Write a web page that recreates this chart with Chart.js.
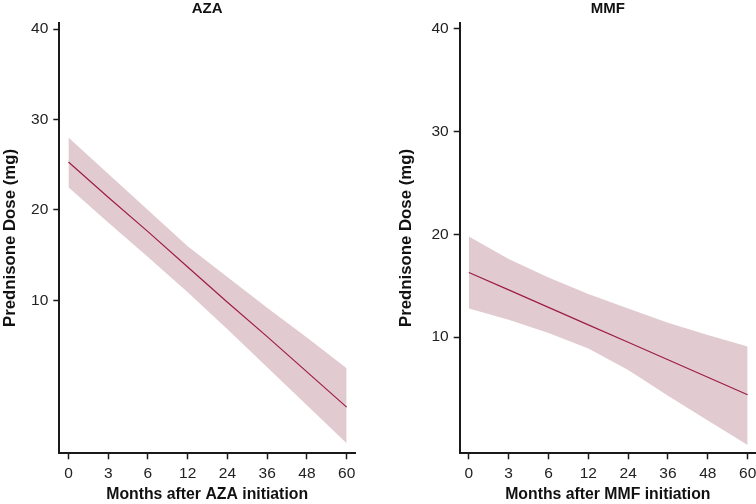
<!DOCTYPE html>
<html>
<head>
<meta charset="utf-8">
<script src="https://cdn.jsdelivr.net/npm/chart.js@4.4.1/dist/chart.umd.min.js"></script>
<style>
  html, body { margin: 0; padding: 0; background: #fff; overflow: hidden; width: 756px; height: 504px; }
  #wrap { position: relative; width: 756px; height: 504px; overflow: hidden; }
  canvas { position: absolute; top: 0; }
</style>
</head>
<body>
<div id="wrap">
  <canvas id="c1" width="378" height="504" style="left:0px"></canvas>
  <canvas id="c2" width="400" height="504" style="left:378px"></canvas>
</div>
<script>
// Categories (months after initiation)
const xLabels = ['0', '3', '6', '12', '24', '36', '48', '60'];
// Y tick labels
const yTickValues = [10, 20, 30, 40];

// AZA panel
const azaFit   = [25.3, 21.4, 17.6, 13.7, 9.8, 6.0, 2.1, -1.8];
const azaUpper = [28.0, 24.0, 20.0, 16.0, 12.6, 9.2, 5.9, 2.5];
const azaLower = [22.5, 18.6, 14.8, 10.9, 6.8, 2.6, -1.6, -5.8];

// MMF panel
const mmfFit   = [16.3, 14.6, 12.9, 11.2, 9.5, 7.8, 6.1, 4.4];
const mmfUpper = [19.8, 17.6, 15.8, 14.2, 12.8, 11.4, 10.2, 9.1];
const mmfLower = [12.8, 11.7, 10.4, 8.9, 6.8, 4.3, 1.9, -0.5];

const FONT = "'Liberation Sans', Arial, Helvetica, sans-serif";
const LINE_COLOR = '#9E1C48';
const BAND_COLOR = '#E1CBD1';
const AXIS_COLOR = '#1a1a1a';

function pts(arr) { return arr.map((v, i) => ({ x: i, y: v })); }

function makeChart(id, title, xTitle, fit, upper, lower, yMin, yMax, padLeft, padRight, yAxisWidth) {
  const ctx = document.getElementById(id);
  return new Chart(ctx, {
    type: 'line',
    data: {
      datasets: [
        { data: pts(upper), order: 2, borderWidth: 0, pointRadius: 0, backgroundColor: BAND_COLOR, borderColor: 'rgba(0,0,0,0)', fill: '+1', tension: 0 },
        { data: pts(lower), order: 3, borderWidth: 0, pointRadius: 0, borderColor: 'rgba(0,0,0,0)', fill: false, tension: 0 },
        { data: pts(fit), order: 0, borderWidth: 1.2, pointRadius: 0, borderColor: LINE_COLOR, fill: false, tension: 0 }
      ]
    },
    options: {
      responsive: false,
      animation: false,
      devicePixelRatio: 1,
      layout: { padding: { left: padLeft, right: padRight, top: 0, bottom: 0 } },
      plugins: {
        legend: { display: false },
        tooltip: { enabled: false },
        title: {
          display: true, text: title, fullSize: false, color: '#111',
          font: { family: FONT, size: 15, weight: 'bold' },
          padding: { top: 0, bottom: 4.7 }
        }
      },
      scales: {
        x: {
          type: 'linear', min: -0.23, max: 7.21,
          afterBuildTicks: (s) => { s.ticks = xLabels.map((_, i) => ({ value: i })); },
          afterFit: (s) => { s.height = 50.7; },
          ticks: {
            callback: (v) => xLabels[v],
            color: '#222', padding: 5, maxRotation: 0, autoSkip: false,
            font: { family: FONT, size: 15.5 }
          },
          grid: { drawOnChartArea: false, drawTicks: true, tickLength: 6, tickWidth: 1.5, tickColor: AXIS_COLOR },
          border: { display: true, color: AXIS_COLOR, width: 2 },
          title: {
            display: true, text: xTitle, color: '#111',
            font: { family: FONT, size: 15.8, weight: 'bold' },
            padding: { top: 0, bottom: 0 }
          }
        },
        y: {
          type: 'linear', min: yMin, max: yMax,
          afterBuildTicks: (s) => { s.ticks = yTickValues.map(v => ({ value: v })); },
          afterFit: (s) => { s.width = yAxisWidth; },
          ticks: {
            color: '#222', padding: 5,
            font: { family: FONT, size: 15.5 }
          },
          grid: { drawOnChartArea: false, drawTicks: true, tickLength: 6, tickWidth: 1.5, tickColor: AXIS_COLOR },
          border: { display: true, color: AXIS_COLOR, width: 2 },
          title: {
            display: true, text: 'Prednisone Dose (mg)', color: '#111',
            font: { family: FONT, size: 16.8, weight: 'bold' },
            padding: { top: 0, bottom: 0 }
          }
        }
      }
    }
  });
}

makeChart('c1', 'AZA', 'Months after AZA initiation', azaFit, azaUpper, azaLower, -6.9, 40.7, 0, 23, 59.3);
makeChart('c2', 'MMF', 'Months after MMF initiation', mmfFit, mmfUpper, mmfLower, -1.3, 40.6, 18.5, 22, 63.2);
</script>
</body>
</html>
